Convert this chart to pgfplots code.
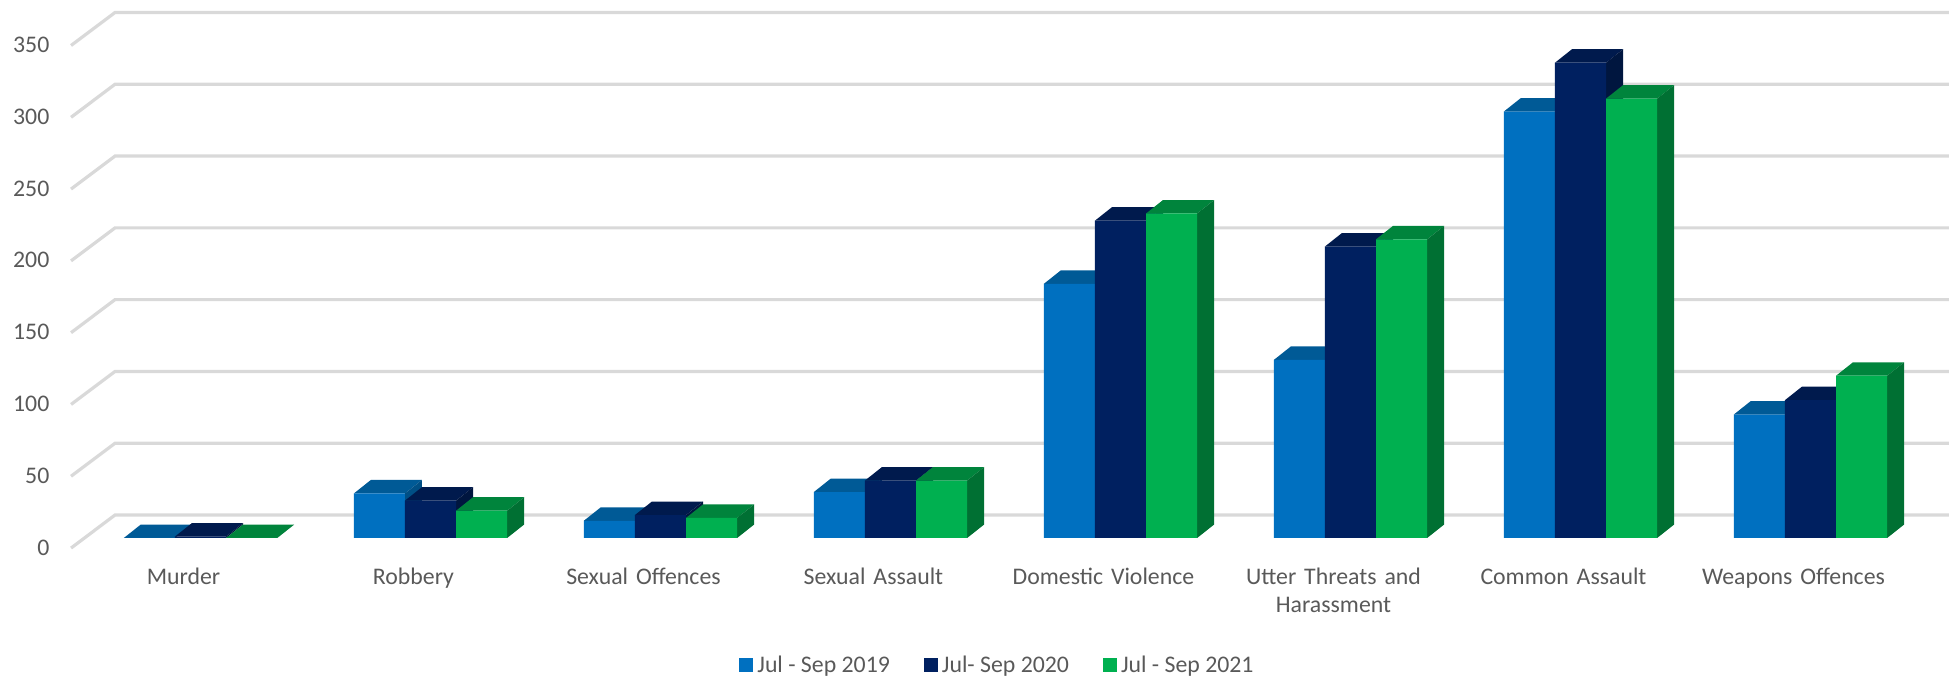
\documentclass[border=0pt]{standalone}
\usepackage{pgfplots}
\usepackage{pgfplotstable}
\usepackage{fontspec}
\setmainfont{Carlito}
\pgfplotsset{compat=1.18}
\definecolor{gridc}{HTML}{D9D9D9}
\definecolor{txt}{HTML}{595959}
\definecolor{aF}{HTML}{0070C0}\definecolor{aT}{HTML}{005A96}\definecolor{aS}{HTML}{004F85}
\definecolor{bF}{HTML}{002060}\definecolor{bT}{HTML}{001A4D}\definecolor{bS}{HTML}{00163F}
\definecolor{cF}{HTML}{00B050}\definecolor{cT}{HTML}{00843C}\definecolor{cS}{HTML}{007033}
\pgfplotstableread{
x  y2019 y2020 y2021
0  0     1     0
1  31    26    19
2  12    16    14
3  32    40    40
4  177   221   226
5  124   203   208
6  297   331   306
7  86    96    113
}\crimes
\def\bw{0.2222}
\def\dx{0.0739}
\def\dy{9.4}
% top and side faces of the bars of one series: column, bar shift, colour prefix
\newcommand\depthfaces[3]{%
  \pgfplotsinvokeforeach{0,...,7}{%
    \pgfplotstablegetelem{##1}{#1}\of\crimes
    \pgfmathsetmacro\vv{\pgfplotsretval}%
    \pgfmathsetmacro\xl{##1+#2-\bw/2}%
    \pgfmathsetmacro\xr{##1+#2+\bw/2}%
    \pgfmathsetmacro\xld{\xl+\dx}%
    \pgfmathsetmacro\xrd{\xr+\dx}%
    \pgfmathsetmacro\vd{\vv+\dy}%
    \edef\temp{\noexpand\addplot[forget plot,draw=none,fill=#3T] coordinates {(\xl,\vv) (\xld,\vd) (\xrd,\vd) (\xr,\vv)} --cycle;
      \noexpand\addplot[forget plot,draw=none,fill=#3S] coordinates {(\xr,0) (\xrd,\dy) (\xrd,\vd) (\xr,\vv)} --cycle;}%
    \temp
  }%
}
\begin{document}
\begin{tikzpicture}
\path[use as bounding box] (0,0) rectangle (974.5pt,339pt);
\begin{axis}[
  scale only axis, width=974.5pt, height=339pt,
  xmin=-0.8717, xmax=7.6022, ymin=-97.5, ymax=374.7,
  axis line style={draw=none}, tick style={draw=none},
  font=\fontsize{11.9}{14}\selectfont, every tick label/.append style={text=txt},
  /pgf/number format/assume math mode=true,
  xtick={0,...,7},
  xticklabels={Murder,Robbery,Sexual Offences,Sexual Assault,Domestic Violence,{Utter Threats and\\Harassment},Common Assault,Weapons Offences},
  xticklabel style={align=center,anchor=north,yshift=58.5pt,xshift=-8.5pt,text width=110pt},
  ytick={0,50,...,350},
  yticklabel style={anchor=east,xshift=28.2pt,yshift=-4.7pt},
  legend style={at={(366.5pt,-2.8pt)},anchor=south west,draw=none,fill=none,legend columns=3,
    font=\fontsize{11.9}{14}\selectfont,text=txt,
    /tikz/every even column/.style={column sep=15pt}},
  legend cell align=left,
  legend image code/.code={\fill[#1] (0pt,-3.5pt) rectangle (7pt,3.5pt);},
]
% side wall and back wall grid
\pgfplotsinvokeforeach{0,50,...,350}{%
  \pgfmathsetmacro\ga{#1-7}\pgfmathsetmacro\gb{#1+16}%
  \edef\temp{\noexpand\addplot[forget plot,gridc,line width=1.6pt] coordinates {(-0.5628,\ga) (-0.3716,\gb) (7.6022,\gb)};}\temp
}
\depthfaces{y2019}{-\bw}{a}
\addplot[ybar,bar width=\bw,bar shift=-\bw,fill=aF,draw=none] table[x=x,y=y2019] {\crimes};
\addlegendentry{Jul - Sep 2019}
\depthfaces{y2020}{0}{b}
\addplot[ybar,bar width=\bw,bar shift=0,fill=bF,draw=none] table[x=x,y=y2020] {\crimes};
\addlegendentry{Jul- Sep 2020}
\depthfaces{y2021}{\bw}{c}
\addplot[ybar,bar width=\bw,bar shift=\bw,fill=cF,draw=none] table[x=x,y=y2021] {\crimes};
\addlegendentry{Jul - Sep 2021}
\end{axis}
\end{tikzpicture}
\end{document}
